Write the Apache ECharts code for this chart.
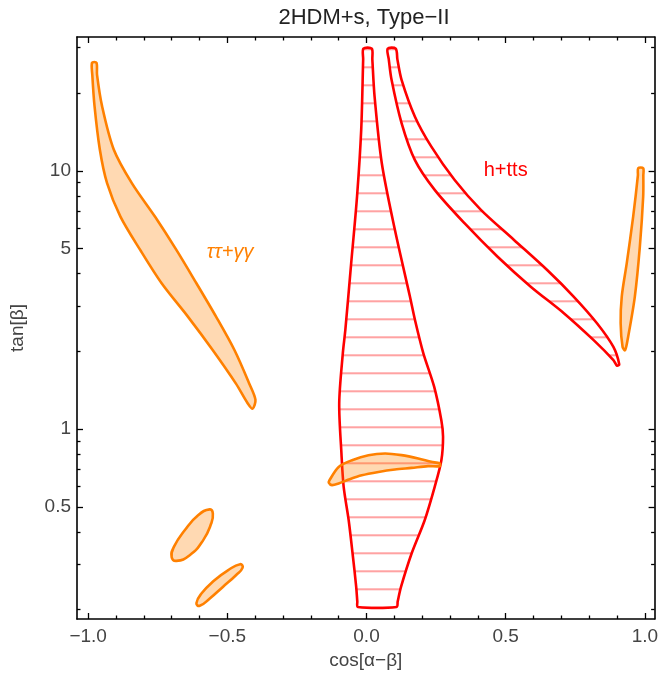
<!DOCTYPE html>
<html lang="en" style="height: 100%">
<head>
  <meta charset="utf-8">
</head>
<body style="height: 100%; margin: 0">
  <div id="container" style="height: 100%"></div>

<script type="text/javascript" src="https://cdn.jsdelivr.net/npm/echarts@6/dist/echarts.min.js"></script>

<script type="text/javascript">
var dom = document.getElementById('container');
var myChart = echarts.init(dom, null, { renderer: 'canvas' });

// outlines as [cos(a-b), tan(b)]
var httsCentre = [
  [-0.011, 29.7], [0.019, 29.7], [0.021, 27.0], [0.029, 19.4], [0.055, 10.7], [0.102, 5.91],
  [0.156, 3.26], [0.174, 2.65], [0.204, 1.97], [0.243, 1.46], [0.269, 1.08],
  [0.275, 0.934], [0.269, 0.758], [0.245, 0.598], [0.209, 0.444], [0.162, 0.330],
  [0.124, 0.245], [0.112, 0.215], [0.108, 0.205], [-0.031, 0.205], [-0.033, 0.215],
  [-0.037, 0.245], [-0.050, 0.330],
  [-0.064, 0.444], [-0.082, 0.598], [-0.090, 0.805], [-0.098, 1.26], [-0.085, 1.97],
  [-0.076, 2.42], [-0.055, 4.39], [-0.034, 7.95], [-0.019, 14.4], [-0.012, 27.0]
];
var httsRight = [
  [0.076, 29.7], [0.105, 29.7], [0.111, 27.0], [0.126, 22.5], [0.174, 16.2], [0.233, 12.4],
  [0.316, 9.23], [0.411, 7.06], [0.530, 5.40], [0.649, 4.13], [0.744, 3.26],
  [0.828, 2.57], [0.887, 2.08], [0.908, 1.78], [0.900, 1.76], [0.887, 1.85],
  [0.816, 2.21], [0.709, 2.81], [0.590, 3.56], [0.471, 4.65], [0.352, 6.27],
  [0.245, 8.44], [0.174, 11.0], [0.126, 15.3], [0.090, 22.5], [0.080, 27.0]
];
var ttggLeft = [
  [-0.970, 26.2], [-0.968, 23.5], [-0.950, 17.8], [-0.908, 12.1], [-0.843, 8.96], [-0.760, 6.65],
  [-0.683, 4.94], [-0.611, 3.67], [-0.540, 2.72], [-0.474, 2.02], [-0.421, 1.50],
  [-0.399, 1.30], [-0.409, 1.20], [-0.427, 1.26], [-0.469, 1.50], [-0.552, 2.02],
  [-0.641, 2.72], [-0.736, 3.67], [-0.813, 4.94], [-0.884, 6.65], [-0.932, 8.96],
  [-0.958, 12.1], [-0.977, 17.8], [-0.985, 23.5], [-0.986, 26.2]
];
var ttggCentre = [
  [-0.133, 0.634], [-0.100, 0.714], [-0.052, 0.758], [0.007, 0.793], [0.067, 0.805],
  [0.126, 0.793], [0.186, 0.770], [0.233, 0.747], [0.263, 0.736], [0.263, 0.719],
  [0.221, 0.719], [0.162, 0.708], [0.102, 0.698], [0.043, 0.683], [-0.017, 0.663],
  [-0.064, 0.638], [-0.100, 0.616], [-0.124, 0.607], [-0.135, 0.619]
];
var ttggRight = [
  [0.976, 10.24], [0.994, 10.24], [0.9945, 9.6], [0.994, 7.95], [0.982, 5.09], [0.964, 3.26],
  [0.940, 2.28], [0.929, 2.02], [0.920, 2.08], [0.913, 2.57], [0.917, 3.26],
  [0.935, 4.39], [0.958, 6.65], [0.975, 9.6]
];
var ttggBlobUpper = [
  [-0.563, 0.489], [-0.552, 0.471], [-0.558, 0.431], [-0.587, 0.371], [-0.635, 0.325],
  [-0.683, 0.309], [-0.700, 0.320], [-0.692, 0.350], [-0.653, 0.406], [-0.605, 0.464]
];
var ttggBlobLower = [
  [-0.454, 0.300], [-0.445, 0.291], [-0.469, 0.272], [-0.516, 0.245], [-0.563, 0.221],
  [-0.599, 0.207], [-0.611, 0.212], [-0.593, 0.231], [-0.546, 0.260], [-0.498, 0.284]
];

var regionNames = ['h+tts', 'ττ+γγ'];
var regionNamePos = [[0.5, 10], [-0.49, 4.85]];

var xMajor = [-1, -0.5, 0, 0.5, 1];
var xMinor = [-0.9, -0.8, -0.7, -0.6, -0.4, -0.3, -0.2, -0.1,
              0.1, 0.2, 0.3, 0.4, 0.6, 0.7, 0.8, 0.9];
var yMajor = [0.5, 1, 5, 10];
var yMajorLabels = ['0.5', '1', '5', '10'];
var yMinor = [0.2, 0.3, 0.4, 0.6, 0.7, 0.8, 0.9, 2, 3, 4, 6, 7, 8, 9, 20, 30];

var RED = '#ff0000';
var ORANGE = '#ff8000';
var ORANGE_FILL = 'rgba(255,128,0,0.3)';
var FONT = '"Liberation Sans", Arial, sans-serif';

// horizontal hatching for the h+tts regions
var hatch = document.createElement('canvas');
hatch.width = 8;
hatch.height = 18;
var hctx = hatch.getContext('2d');
hctx.fillStyle = 'rgba(255,70,70,0.5)';
hctx.fillRect(0, 12.3, 8, 2);
var hatchFill = { image: hatch, repeat: 'repeat' };

var lg = function (v) { return Math.log10(v); };

function region(points, fill, stroke, smooth) {
  return {
    type: 'custom',
    coordinateSystem: 'cartesian2d',
    silent: true,
    data: points.map(function (p) { return [p[0], lg(p[1])]; }),
    renderItem: function (params, api) {
      if (params.dataIndex !== 0) return null;
      var pts = points.map(function (p) { return api.coord([p[0], lg(p[1])]); });
      return {
        type: 'polygon',
        shape: { points: pts, smooth: smooth },
        style: { fill: fill, stroke: stroke, lineWidth: 2.6, lineJoin: 'round' }
      };
    }
  };
}

function xAx(position, ticks, len, withLine) {
  return {
    type: 'value', min: -1.04, max: 1.035, position: position,
    axisLine: { show: withLine, onZero: false, lineStyle: { color: '#000', width: 1.6 } },
    axisTick: { inside: true, length: len, customValues: ticks, lineStyle: { color: '#000', width: 1.3 } },
    axisLabel: { show: false },
    splitLine: { show: false }
  };
}
function yAx(position, ticks, len, withLine) {
  return {
    type: 'value', min: -0.735, max: 1.518, position: position,
    axisLine: { show: withLine, onZero: false, lineStyle: { color: '#000', width: 1.6 } },
    axisTick: { inside: true, length: len, customValues: ticks.map(lg), lineStyle: { color: '#000', width: 1.3 } },
    axisLabel: { show: false },
    splitLine: { show: false }
  };
}

var xBottom = xAx('bottom', xMajor, 6, true);
xBottom.axisLabel = {
  show: true, customValues: xMajor, margin: 8, fontSize: 19, color: '#444', fontFamily: FONT,
  formatter: function (v) { return (v < 0 ? '\u2212' : '') + Math.abs(v).toFixed(1); }
};
xBottom.name = 'cos[α\u2212β]';
xBottom.nameLocation = 'middle';
xBottom.nameGap = 32;
xBottom.nameTextStyle = { fontSize: 19, color: '#444', fontFamily: FONT };

var yLeft = yAx('left', yMajor, 6, true);
yLeft.axisLabel = {
  show: true, customValues: yMajor.map(lg), margin: 6, fontSize: 19, color: '#444', fontFamily: FONT,
  formatter: function (v) {
    for (var i = 0; i < yMajor.length; i++) {
      if (Math.abs(lg(yMajor[i]) - v) < 1e-6) return yMajorLabels[i];
    }
    return '';
  }
};
yLeft.name = 'tan[β]';
yLeft.nameLocation = 'middle';
yLeft.nameGap = 50;
yLeft.nameTextStyle = { fontSize: 19, color: '#444', fontFamily: FONT };

var option = {
  animation: false,
  backgroundColor: '#fff',
  grid: { left: 73, right: 6, top: 37, bottom: 60 },
  graphic: [{
    type: 'text', x: 364, y: 18,
    style: { text: '2HDM+s, Type\u2212II', fontSize: 22, fill: '#222', fontFamily: FONT, align: 'center', verticalAlign: 'middle' }
  }],
  xAxis: [xBottom, xAx('bottom', xMinor, 3.5, false), xAx('top', xMajor, 6, true), xAx('top', xMinor, 3.5, false)],
  yAxis: [yLeft, yAx('left', yMinor, 3.5, false), yAx('right', yMajor, 6, true), yAx('right', yMinor, 3.5, false)],
  series: [
    region(httsCentre, hatchFill, RED, 0.3),
    region(httsRight, hatchFill, RED, 0.3),
    region(ttggLeft, ORANGE_FILL, ORANGE, 0.3),
    region(ttggCentre, ORANGE_FILL, ORANGE, 0.3),
    region(ttggRight, ORANGE_FILL, ORANGE, 0.3),
    region(ttggBlobUpper, ORANGE_FILL, ORANGE, 0.5),
    region(ttggBlobLower, ORANGE_FILL, ORANGE, 0.5),
    {
      type: 'custom',
      coordinateSystem: 'cartesian2d',
      silent: true,
      data: regionNamePos.map(function (p) { return [p[0], lg(p[1])]; }),
      renderItem: function (params, api) {
        var pt = api.coord([api.value(0), api.value(1)]);
        var i = params.dataIndex;
        return {
          type: 'text', x: pt[0], y: pt[1],
          style: {
            text: regionNames[i], fill: i === 0 ? RED : ORANGE,
            fontSize: 20, fontFamily: FONT, fontStyle: i === 0 ? 'normal' : 'italic',
            align: 'center', verticalAlign: 'middle'
          }
        };
      }
    }
  ]
};

myChart.setOption(option);
window.addEventListener('resize', myChart.resize);
</script>
</body>
</html>
